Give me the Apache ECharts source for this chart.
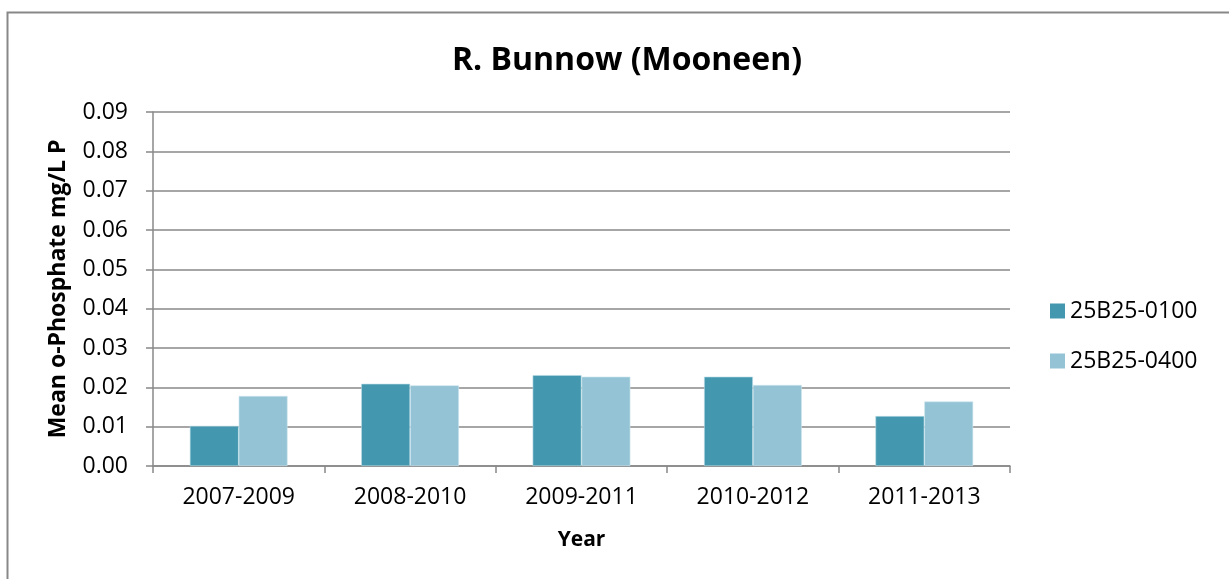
<!DOCTYPE html>
<html>
<head>
<meta charset="utf-8">
<script src="https://cdn.jsdelivr.net/npm/echarts@6/dist/echarts.min.js"></script>
<style>
  html, body { margin: 0; padding: 0; background: #fff; }
  #chart { width: 1229px; height: 579px; }
</style>
</head>
<body>
<div id="chart"></div>
<script>
// data
var years = ['2007-2009', '2008-2010', '2009-2011', '2010-2012', '2011-2013'];
var site0100 = [0.0102, 0.0209, 0.0231, 0.0227, 0.0127];
var site0400 = [0.0178, 0.0205, 0.0227, 0.0206, 0.0164];
var yTicks = ['0.00', '0.01', '0.02', '0.03', '0.04', '0.05', '0.06', '0.07', '0.08', '0.09'];

var font = 'Open Sans';
var axisGrey = '#888888';

var myChart = echarts.init(document.getElementById('chart'));

var option = {
    backgroundColor: '#fff',
    animation: false,
    textStyle: { fontFamily: font, color: '#000' },
    // outer chart frame (right/bottom edges are cut off in the picture)
    graphic: [{
        type: 'rect',
        shape: { x: 7.5, y: 12.5, width: 1240, height: 600 },
        style: { fill: 'none', stroke: '#888', lineWidth: 2 },
        silent: true
    }],
    title: {
        text: 'R. Bunnow (Mooneen)',
        left: 622,
        top: 40,
        textAlign: 'center',
        textStyle: { fontFamily: font, fontWeight: 'bold', fontSize: 32, color: '#000' }
    },
    legend: {
        orient: 'vertical',
        left: 1050,
        top: 299,
        padding: 0,
        itemWidth: 15,
        itemHeight: 15,
        itemGap: 26,
        icon: 'rect',
        itemStyle: { borderWidth: 0 },
        textStyle: { fontFamily: font, fontSize: 23, lineHeight: 24, color: '#000' },
        data: ['25B25-0100', '25B25-0400']
    },
    grid: { left: 153, right: 219, top: 112, bottom: 113 },
    xAxis: {
        type: 'category',
        data: years,
        name: 'Year',
        nameLocation: 'middle',
        nameGap: 64,
        nameTextStyle: { fontFamily: font, fontWeight: 'bold', fontSize: 21, color: '#000' },
        axisLine: { lineStyle: { color: axisGrey, width: 1.5 } },
        axisTick: { show: true, length: 7, lineStyle: { color: axisGrey, width: 1.5 } },
        axisLabel: { fontFamily: font, fontSize: 23, color: '#000', margin: 20 }
    },
    yAxis: {
        type: 'value',
        min: 0,
        max: 0.09,
        interval: 0.01,
        name: 'Mean o-Phosphate mg/L P',
        nameLocation: 'middle',
        nameGap: 83,
        nameTextStyle: { fontFamily: font, fontWeight: 'bold', fontSize: 23, color: '#000' },
        axisLine: { show: true, lineStyle: { color: axisGrey, width: 1.5 } },
        axisTick: { show: true, length: 7, lineStyle: { color: axisGrey, width: 1.5 } },
        splitLine: { lineStyle: { color: axisGrey, width: 1.5 } },
        axisLabel: {
            fontFamily: font, fontSize: 23, color: '#000', margin: 25,
            formatter: function (v) { return yTicks[Math.round(v * 100)]; }
        }
    },
    series: [
        {
            name: '25B25-0100',
            type: 'bar',
            data: site0100,
            barGap: '0%',
            barCategoryGap: '43%',
            itemStyle: { color: '#4397AF', borderColor: '#b9dbe6', borderWidth: 0.6 }
        },
        {
            name: '25B25-0400',
            type: 'bar',
            data: site0400,
            itemStyle: { color: '#93C3D4', borderColor: '#cfe6ee', borderWidth: 0.6 }
        }
    ]
};

myChart.setOption(option);
</script>
</body>
</html>
